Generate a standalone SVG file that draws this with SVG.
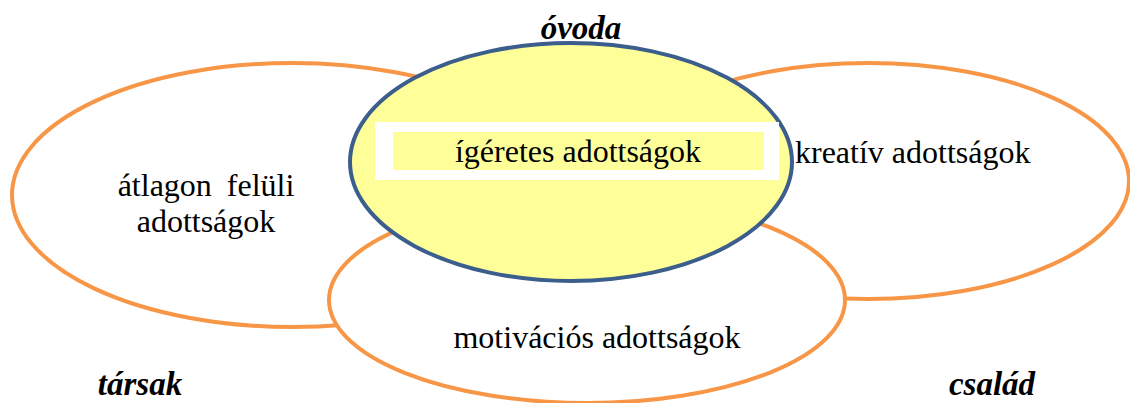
<svg xmlns="http://www.w3.org/2000/svg" width="1130" height="403" viewBox="0 0 1130 403">
<style>
.ring{fill:#FFFFFF;stroke:#F79646;stroke-width:4}
.core{fill:#FFFF99;stroke:#3B5E8C;stroke-width:4}
.t{font-family:'Liberation Serif',serif;font-size:32px;fill:#000}
.h{font-family:'Liberation Serif',serif;font-size:33px;font-weight:bold;font-style:italic;fill:#000}
</style>
<rect width="1130" height="403" fill="#FFFFFF"/>
<g id="node-atlagon">
<ellipse class="ring" cx="292" cy="195" rx="280" ry="132"/>
<text class="t" x="206" y="196" text-anchor="middle" word-spacing="7">átlagon felüli</text>
<text class="t" x="206" y="232" text-anchor="middle">adottságok</text>
</g>
<g id="node-kreativ">
<ellipse class="ring" cx="868" cy="181" rx="261" ry="118"/>
<text class="t" x="795" y="163">kreatív adottságok</text>
</g>
<g id="node-motivacios">
<ellipse class="ring" cx="587" cy="300" rx="258" ry="103"/>
<text class="t" x="597" y="348" text-anchor="middle">motivációs adottságok</text>
</g>
<g id="node-igeretes">
<ellipse class="core" cx="571" cy="162" rx="221" ry="119"/>
<rect x="375" y="122" width="404" height="58" fill="#FFFFFF"/>
<rect x="393" y="132" width="371" height="38" fill="#FFFF99"/>
<text class="t" x="578" y="162" text-anchor="middle">ígéretes adottságok</text>
</g>
<g id="labels">
<text class="h" x="581" y="39" text-anchor="middle">óvoda</text>
<text class="h" x="140" y="395" text-anchor="middle">társak</text>
<text class="h" x="992" y="395" text-anchor="middle">család</text>
</g>
<g id="connectors"></g>
</svg>
